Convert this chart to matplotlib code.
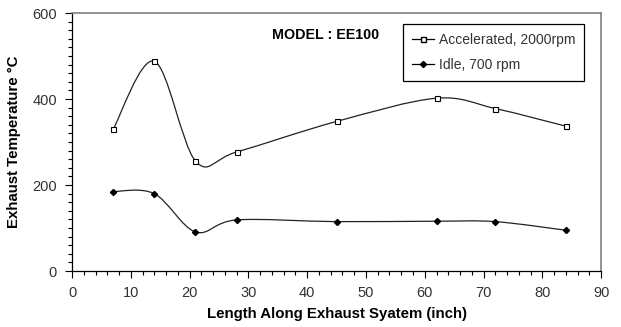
import matplotlib

matplotlib.use("Agg")
import matplotlib.pyplot as plt
from matplotlib.lines import Line2D
from matplotlib.patches import PathPatch
from matplotlib.path import Path
from matplotlib.ticker import MultipleLocator

plt.rcParams["font.family"] = ["Liberation Sans", "DejaVu Sans"]

# Values.
length_in = [7, 14, 21, 28, 45, 62, 72, 84]
accel_temp = [330, 488, 256, 277, 348, 402, 378, 337]
idle_temp = [185, 180, 91, 119, 115, 116, 115, 95]

accel_label = "Accelerated, 2000rpm"
idle_label = "Idle, 700 rpm"
model_text = "MODEL : EE100"


def smooth_path(xs, ys):
    """Excel-style smoothed line: cubic Bezier segments through every point."""
    pts = list(zip(xs, ys))
    n = len(pts)
    verts = [pts[0]]
    codes = [Path.MOVETO]
    for i in range(n - 1):
        p0 = pts[max(i - 1, 0)]
        p1 = pts[i]
        p2 = pts[i + 1]
        p3 = pts[min(i + 2, n - 1)]
        c1 = (p1[0] + (p2[0] - p0[0]) / 6, p1[1] + (p2[1] - p0[1]) / 6)
        c2 = (p2[0] - (p3[0] - p1[0]) / 6, p2[1] - (p3[1] - p1[1]) / 6)
        verts += [c1, c2, p2]
        codes += [Path.CURVE4] * 3
    return Path(verts, codes)


fig = plt.figure(figsize=(6.21, 3.27), dpi=100)
ax = fig.add_axes([0.116, 0.171, 0.852, 0.789])

line_kw = dict(facecolor="none", edgecolor="#222222", linewidth=0.9, zorder=2)
ax.add_patch(PathPatch(smooth_path(length_in, accel_temp), **line_kw))
ax.add_patch(PathPatch(smooth_path(length_in, idle_temp), **line_kw))

ax.plot(length_in, accel_temp, linestyle="none", marker="s", markersize=3.6,
        markerfacecolor="white", markeredgecolor="black", markeredgewidth=0.8, zorder=3)
ax.plot(length_in, idle_temp, linestyle="none", marker="D", markersize=3.1,
        markerfacecolor="black", markeredgecolor="black", zorder=3)

ax.set_xlim(0, 90)
ax.set_ylim(0, 600)
ax.xaxis.set_major_locator(MultipleLocator(10))
ax.xaxis.set_minor_locator(MultipleLocator(2))
ax.yaxis.set_major_locator(MultipleLocator(200))
ax.yaxis.set_minor_locator(MultipleLocator(20))
ax.tick_params(which="major", direction="out", length=5, width=0.8, color="black",
               labelsize=10.5, labelcolor="#333333", pad=6)
ax.tick_params(which="minor", direction="out", length=3, width=0.8, color="black")

for side in ("left", "bottom"):
    ax.spines[side].set_color("black")
    ax.spines[side].set_linewidth(0.9)
for side in ("top", "right"):
    ax.spines[side].set_color("#808080")
    ax.spines[side].set_linewidth(1.2)

ax.set_xlabel("Length Along Exhaust Syatem (inch)", fontsize=10.8, fontweight="bold",
              labelpad=5)
ax.set_ylabel("Exhaust Temperature \u00b0C", fontsize=10.8, fontweight="bold",
              labelpad=8)

ax.text(43.2, 549, model_text, fontsize=10.3, fontweight="bold", ha="center",
        va="center")

handles = [
    Line2D([], [], color="black", linewidth=0.9, marker="s", markersize=3.6,
           markerfacecolor="white", markeredgecolor="black"),
    Line2D([], [], color="black", linewidth=0.9, marker="D", markersize=3.1,
           markerfacecolor="black"),
]
leg = ax.legend(handles, [accel_label, idle_label], loc="upper left",
                bbox_to_anchor=(0.626, 0.957), borderaxespad=0, fancybox=False,
                framealpha=1, edgecolor="black", fontsize=10, handlelength=1.6,
                handletextpad=0.3, borderpad=0.65, labelspacing=0.8)
leg.get_frame().set_linewidth(0.9)
for t in leg.get_texts():
    t.set_color("#333333")

fig.savefig("out.png", dpi=100)
